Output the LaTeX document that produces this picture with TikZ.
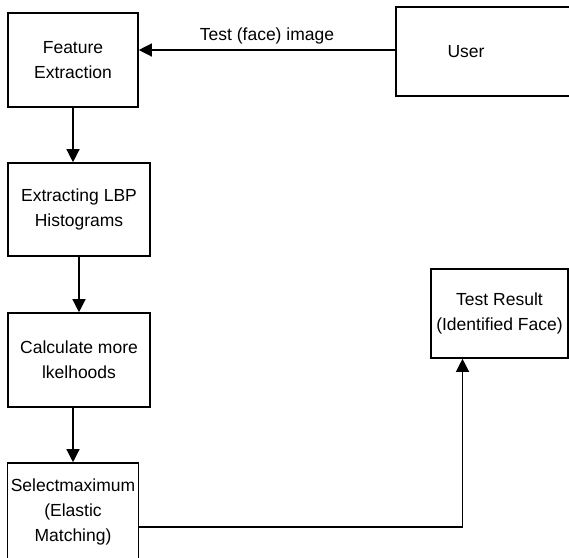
\documentclass[tikz,border=0pt]{standalone}
\usepackage{fontspec}
\setmainfont{Liberation Sans}
\usepackage{tikz}
\usetikzlibrary{shapes,arrows.meta}
\tikzset{node distance = 2cm}

\begin{document}
\begin{tikzpicture}[x=1pt,y=-1pt]
  \useasboundingbox (0,0) rectangle (569,557);
  \tikzstyle{BoxStyle}=[draw, line width=1.6pt, rectangle, align=center,
                        font=\fontsize{17.5}{25}\selectfont]
  \node[BoxStyle, minimum width=130pt, minimum height=94pt] (fe) at (73,60) {Feature\\Extraction};
  \node[BoxStyle, minimum width=180pt, minimum height=89pt] (user) at (486,51.5) {User\hspace*{40pt}};
  \node[BoxStyle, minimum width=142pt, minimum height=93pt] (lbp) at (79,209.5) {Extracting LBP\\Histograms};
  \node[BoxStyle, minimum width=142pt, minimum height=94pt] (calc) at (79,360) {Calculate more\\lkelhoods};
  \node[BoxStyle, minimum width=130pt, minimum height=98pt] (sel) at (73,512) {Selectmaximum\\(Elastic\\Matching)};
  \node[BoxStyle, minimum width=137pt, minimum height=89pt] (res) at (499.5,313.5) {Test Result\\(Identified Face)};
  \tikzstyle{EdgeStyle}=[line width=1.3pt, -{Triangle[length=13pt,width=13pt]}]
  \draw[EdgeStyle] (user.west |- 0,50) -- (fe.east |- 0,50)
    node[midway, above=2pt, font=\fontsize{17.5}{20}\selectfont] {Test (face) image};
  \draw[EdgeStyle] (fe.south) -- (fe.south |- lbp.north);
  \draw[EdgeStyle] (lbp) -- (calc);
  \draw[EdgeStyle] (sel.north |- calc.south) -- (sel.north);
  \draw[EdgeStyle] ([yshift=-15pt]sel.east) -| ([xshift=-37pt]res.south);
\end{tikzpicture}
\end{document}
